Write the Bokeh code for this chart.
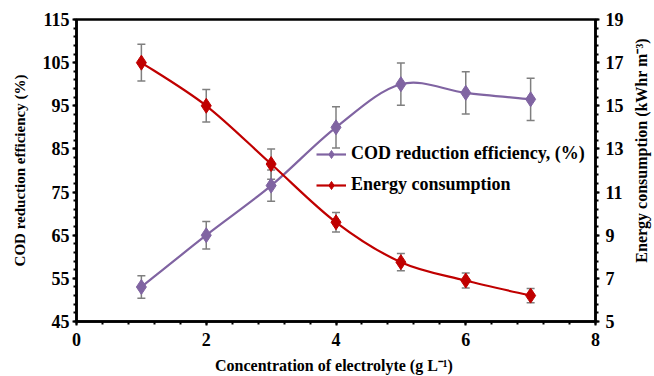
import math
from bokeh.plotting import figure
from bokeh.layouts import row
from bokeh.models import (Range1d, LinearAxis, FixedTicker, ColumnDataSource,
                          Legend, LegendItem)
from bokeh.core.properties import value
from bokeh.embed import file_html
from bokeh.resources import INLINE

# ---- data ----
conc = [1, 2, 3, 4, 5, 6, 7]
cod = [53.0, 65.0, 76.5, 90.0, 100.0, 98.0, 96.5]
cod_err = [2.6, 3.2, 3.6, 4.8, 4.9, 4.9, 4.9]
energy = [17.0, 15.0, 12.3, 9.6, 7.75, 6.9, 6.2]
energy_err = [0.85, 0.75, 0.7, 0.45, 0.4, 0.35, 0.33]

x_ticks = [0, 2, 4, 6, 8]
cod_ticks = [45, 55, 65, 75, 85, 95, 105, 115]
energy_ticks = [5, 7, 9, 11, 13, 15, 17, 19]

right_title = "Energy consumption (kWhr m\u207b\u00b3)"

FONT = "Liberation Serif"
PURPLE = "#8064A2"
RED = "#C00000"
ERR = "#7F7F7F"


def smooth(xs, ys):
    """Bezier segments (Catmull-Rom style, like spreadsheet smoothed lines)."""
    n = len(xs)
    d = dict(x0=[], y0=[], x1=[], y1=[], cx0=[], cy0=[], cx1=[], cy1=[])
    for i in range(n - 1):
        a = max(i - 1, 0)
        b = min(i + 2, n - 1)
        d["x0"].append(xs[i]); d["y0"].append(ys[i])
        d["x1"].append(xs[i + 1]); d["y1"].append(ys[i + 1])
        d["cx0"].append(xs[i] + (xs[i + 1] - xs[a]) / 6)
        d["cy0"].append(ys[i] + (ys[i + 1] - ys[a]) / 6)
        d["cx1"].append(xs[i + 1] - (xs[b] - xs[i]) / 6)
        d["cy1"].append(ys[i + 1] - (ys[b] - ys[i]) / 6)
    return ColumnDataSource(d)


p = figure(width=630, height=376, x_range=Range1d(0, 8), y_range=Range1d(45, 115),
           output_backend="svg", toolbar_location=None,
           min_border_left=76, min_border_right=35, min_border_top=19, min_border_bottom=54)
p.extra_y_ranges = {"e": Range1d(5, 19)}
p.xgrid.grid_line_color = None
p.ygrid.grid_line_color = None
p.outline_line_color = "black"
p.outline_line_width = 2.5
p.outline_line_alpha = 1.0
p.background_fill_color = "white"
p.border_fill_color = "white"

xaxis = p.below[0]
laxis = p.left[0]

# tickers
xaxis.ticker = FixedTicker(ticks=x_ticks, minor_ticks=[i * 0.4 for i in range(21)])
laxis.ticker = FixedTicker(ticks=cod_ticks, minor_ticks=list(range(45, 116, 2)))
raxis = LinearAxis(y_range_name="e",
                   ticker=FixedTicker(ticks=energy_ticks,
                                      minor_ticks=[5 + i * 0.4 for i in range(36)]))
p.add_layout(raxis, "right")

xaxis.axis_label = "Concentration of electrolyte  (g L\u207b\u00b9)"
laxis.axis_label = "COD reduction efficiency (%)"

for ax in [xaxis, laxis, raxis]:
    ax.axis_line_width = 2.5
    ax.axis_line_color = "black"
    ax.major_tick_line_width = 2
    ax.minor_tick_line_width = 2
    ax.major_tick_out = 4
    ax.major_tick_in = 0
    ax.minor_tick_out = 3
    ax.minor_tick_in = 0
    ax.major_label_text_font = FONT
    ax.major_label_text_font_style = "bold"
    ax.major_label_text_font_size = "18px"
    ax.major_label_text_color = "black"
    ax.axis_label_text_font = FONT
    ax.axis_label_text_font_style = "bold"
    ax.axis_label_text_font_size = "16px"
    ax.axis_label_text_color = "black"

laxis.axis_label_text_font_size = "15px"
xaxis.major_label_standoff = 7
xaxis.axis_label_standoff = 8
laxis.major_label_standoff = 3
laxis.axis_label_standoff = 12
raxis.major_label_standoff = 6

# error bars
cod_src = ColumnDataSource(dict(x=conc, y=cod,
                                lo=[v - e for v, e in zip(cod, cod_err)],
                                hi=[v + e for v, e in zip(cod, cod_err)]))
en_src = ColumnDataSource(dict(x=conc, y=energy,
                               lo=[v - e for v, e in zip(energy, energy_err)],
                               hi=[v + e for v, e in zip(energy, energy_err)]))

p.segment(x0="x", y0="lo", x1="x", y1="hi", source=cod_src, line_color=ERR, line_width=1.5)
p.scatter(x="x", y="lo", source=cod_src, marker="dash", size=8, line_color=ERR, line_width=1.5)
p.scatter(x="x", y="hi", source=cod_src, marker="dash", size=8, line_color=ERR, line_width=1.5)
p.segment(x0="x", y0="lo", x1="x", y1="hi", source=en_src, line_color=ERR, line_width=1.5,
          y_range_name="e")
p.scatter(x="x", y="lo", source=en_src, marker="dash", size=8, line_color=ERR, line_width=1.5,
          y_range_name="e")
p.scatter(x="x", y="hi", source=en_src, marker="dash", size=8, line_color=ERR, line_width=1.5,
          y_range_name="e")

# smoothed lines
p.bezier(x0="x0", y0="y0", x1="x1", y1="y1", cx0="cx0", cy0="cy0", cx1="cx1", cy1="cy1",
         source=smooth(conc, cod), line_color=PURPLE, line_width=2.2)
p.bezier(x0="x0", y0="y0", x1="x1", y1="y1", cx0="cx0", cy0="cy0", cx1="cx1", cy1="cy1",
         source=smooth(conc, energy), line_color=RED, line_width=2.2, y_range_name="e")

# markers
cod_pts = p.scatter(x="x", y="y", source=cod_src, marker="diamond", size=15,
                    fill_color=PURPLE, line_color=PURPLE)
en_pts = p.scatter(x="x", y="y", source=en_src, marker="diamond", size=15,
                   fill_color=RED, line_color=RED, y_range_name="e")

# legend glyph lines (hidden, used only for legend entries)
cod_leg_line = p.line(x=conc, y=cod, line_color=PURPLE, line_width=2.2, visible=False)
en_leg_line = p.line(x=conc, y=energy, line_color=RED, line_width=2.2, y_range_name="e",
                     visible=False)

legend = Legend(items=[
    LegendItem(label="COD reduction efficiency, (%)", renderers=[cod_leg_line, cod_pts]),
    LegendItem(label="Energy consumption", renderers=[en_leg_line, en_pts]),
], location=(236, 122))
legend.label_text_font = FONT
legend.label_text_font_style = "bold"
legend.label_text_font_size = "18px"
legend.label_text_color = "black"
legend.glyph_width = 30
legend.glyph_height = 20
legend.label_height = 20
legend.label_standoff = 5
legend.spacing = 10
legend.padding = 4
legend.margin = 0
legend.border_line_alpha = 0
legend.background_fill_alpha = 0
p.add_layout(legend, "center")

# narrow strip on the right carrying the right-axis title (reads bottom-to-top)
q = figure(width=24, height=376, x_range=Range1d(0, 24), y_range=Range1d(0, 376),
           output_backend="svg", toolbar_location=None,
           min_border=0, min_border_left=0, min_border_right=0,
           min_border_top=0, min_border_bottom=0)
q.axis.visible = False
q.xgrid.grid_line_color = None
q.ygrid.grid_line_color = None
q.outline_line_color = None
q.background_fill_color = "white"
q.border_fill_color = "white"
q.text(x=[11], y=[213], text=[right_title], angle=math.pi / 2,
       text_align="center", text_baseline="middle",
       text_font=value(FONT), text_font_style="bold", text_font_size="16px",
       text_color="black")

layout = row(p, q, spacing=0)
open("out.html", "w").write(file_html(layout, INLINE))
